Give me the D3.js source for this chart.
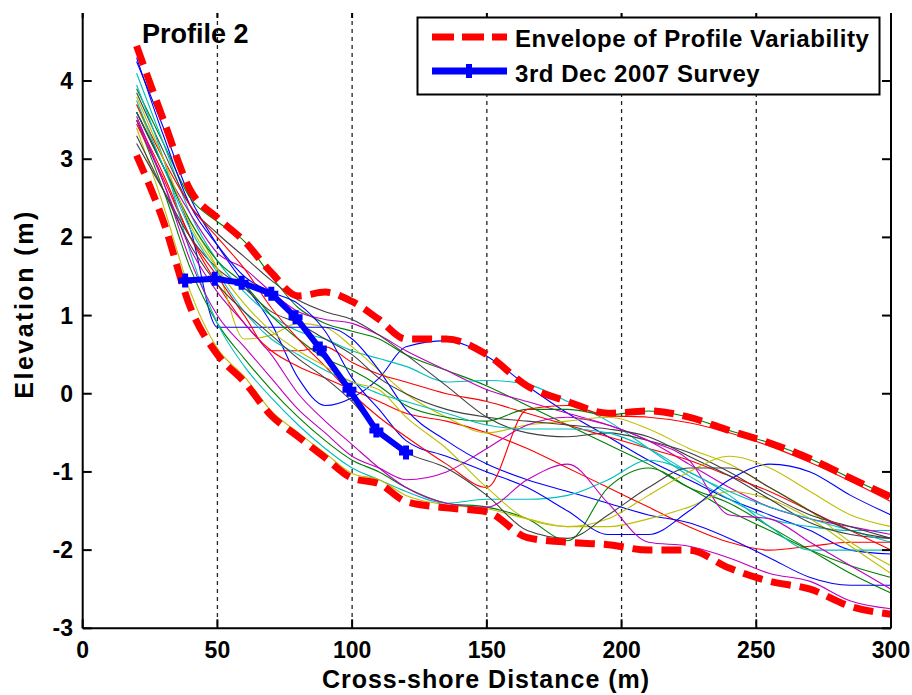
<!DOCTYPE html>
<html>
<head>
<meta charset="utf-8">
<script src="https://cdn.jsdelivr.net/npm/d3@7"></script>
<style>
  html, body { margin: 0; padding: 0; background: #fff; }
  svg text { font-family: 'Liberation Sans', Arial, Helvetica, sans-serif; font-weight: bold; fill: #000; }
</style>
</head>
<body>
<div id="chart"></div>
<script>
// ── Data ────────────────────────────────────────────────────────────────────
const xTicks = [0, 50, 100, 150, 200, 250, 300];
const yTicks = [-3, -2, -1, 0, 1, 2, 3, 4];

// cross-shore positions shared by all profiles and the envelope
const distances = [20, 30, 40, 50, 60, 70, 80, 90, 100, 110, 120, 135, 150, 165, 180, 195, 210, 225, 240, 255, 270, 285, 300];

const envelopeUpper = [4.45, 3.5, 2.6, 2.25, 1.95, 1.55, 1.25, 1.3, 1.18, 0.95, 0.7, 0.7, 0.5, 0.1, -0.1, -0.25, -0.22, -0.3, -0.47, -0.63, -0.83, -1.08, -1.32];
const envelopeLower = [3.05, 2.2, 1.1, 0.5, 0.15, -0.28, -0.55, -0.82, -1.08, -1.15, -1.38, -1.46, -1.51, -1.84, -1.9, -1.93, -2.0, -2.0, -2.23, -2.4, -2.5, -2.72, -2.82];

// historic surveys (thin lines)
const profiles = [
  [4.25, 3.4, 2.5, 1.9, 1.4, 0.9, 0.2, -0.15, -0.05, 0.2, 0.6, 0.68, 0.48, 0.1, -0.25, -0.55, -0.85, -1.1, -1.35, -1.55, -1.75, -2.0, -2.05],
  [3.9, 3.2, 2.5, 2.2, 1.95, 1.5, 1.1, 0.9, 0.8, 0.7, 0.5, 0.3, 0.1, -0.15, -0.4, -0.65, -0.9, -1.2, -1.4, -1.7, -2.0, -2.3, -2.55],
  [3.5, 2.8, 2.0, 1.4, 0.9, 0.55, 0.35, 0.2, 0.05, -0.1, -0.25, -0.35, -0.5, -0.7, -0.95, -1.2, -1.45, -1.7, -1.9, -2.0, -1.95, -1.9, -1.9],
  [4.1, 3.2, 2.3, 1.7, 1.3, 1.0, 0.8, 0.7, 0.55, 0.45, 0.35, 0.15, 0.17, 0.12, -0.1, -0.35, -0.7, -1.05, -1.35, -1.6, -1.7, -1.75, -1.75],
  [3.6, 2.9, 2.3, 1.8, 1.6, 1.3, 1.05, 0.95, 0.9, 0.75, 0.55, 0.3, 0.05, -0.1, -0.25, -0.4, -0.6, -0.9, -1.2, -1.45, -1.6, -1.7, -1.8],
  [3.7, 2.9, 2.2, 1.6, 0.7, 0.75, 0.9, 0.85, 0.6, 0.3, 0.0, -0.3, -0.5, -0.4, -0.35, -0.3, -0.45, -0.7, -0.9, -1.2, -1.5, -1.9, -2.2],
  [3.85, 3.1, 2.4, 2.05, 1.75, 1.45, 1.2, 1.05, 0.95, 0.75, 0.5, 0.1, -0.3, -0.5, -0.55, -0.5, -0.6, -0.75, -1.0, -1.3, -1.55, -1.7, -1.85],
  [3.6, 2.9, 2.1, 0.85, 0.85, 0.85, 0.85, 0.85, 0.7, 0.3, -0.2, -0.6, -0.9, -1.1, -1.25, -1.4, -1.55, -1.65, -1.85, -2.1, -2.35, -2.45, -2.45],
  [3.5, 2.6, 1.6, 0.9, 0.45, 0.05, -0.3, -0.6, -0.85, -1.0, -1.2, -1.4, -1.45, -1.6, -1.88, -1.2, -0.95, -1.2, -1.5, -1.75, -2.0, -2.2, -2.35],
  [3.45, 2.75, 2.0, 1.5, 1.0, 0.55, 0.55, 0.6, 0.4, 0.25, 0.15, 0.0, -0.1, -0.25, -0.4, -0.55, -0.7, -0.85, -1.05, -1.25, -1.5, -1.75, -2.0],
  [3.95, 3.0, 1.8, 0.9, 0.35, -0.05, -0.4, -0.7, -0.95, -1.1, -1.25, -1.4, -1.35, -1.35, -1.3, -1.1, -0.85, -1.0, -1.3, -1.7, -2.0, -2.0, -2.0],
  [3.55, 2.7, 1.7, 1.0, 0.6, 0.2, -0.2, -0.5, -0.8, -0.95, -1.1, -1.0, -0.7, -0.4, -0.3, -0.4, -0.6, -0.85, -1.55, -1.6, -1.9, -2.2, -2.5],
  [3.4, 2.4, 1.3, 0.58, 0.22, -0.22, -0.5, -0.76, -1.02, -1.1, -1.3, -1.42, -1.47, -1.6, -1.7, -1.7, -1.6, -1.45, -1.25, -1.35, -1.6, -1.95, -2.3],
  [3.2, 2.6, 2.0, 1.6, 1.35, 1.05, 0.9, 0.7, 0.5, 0.2, 0.0, -0.2, -0.3, -0.35, -0.4, -0.45, -0.55, -0.8, -1.05, -1.35, -1.65, -1.8, -1.85],
  [4.3, 3.3, 2.4, 1.9, 1.5, 1.3, 1.15, 0.8, 0.2, -0.2, -0.6, -0.8, -1.0, -1.2, -1.5, -1.8, -1.8, -1.5, -1.1, -0.9, -1.0, -1.3, -1.55],
  [3.6, 2.9, 2.2, 1.7, 1.4, 1.0, 0.7, 0.45, 0.3, 0.1, -0.15, -0.3, -0.35, -0.2, -0.2, -0.27, -0.22, -0.3, -0.47, -0.63, -0.83, -1.08, -1.32],
  [3.7, 3.0, 2.4, 2.0, 1.6, 1.1, 0.7, 0.35, 0.0, -0.3, -0.55, -0.9, -1.2, -0.2, -0.15, -0.28, -0.3, -0.37, -0.5, -0.67, -0.88, -1.12, -1.38],
  [3.75, 2.9, 2.1, 1.55, 1.05, 0.7, 0.5, 0.3, 0.15, 0.0, -0.1, -0.25, -0.4, -0.45, -0.45, -0.5, -0.7, -1.0, -1.25, -1.45, -1.6, -1.75, -1.9],
  [3.5, 2.7, 1.85, 1.3, 0.9, 0.5, 0.0, -0.35, -0.65, -0.95, -1.2, -1.4, -1.45, -1.1, -0.9, -1.4, -1.9, -1.95, -2.1, -2.3, -2.4, -2.65, -2.75],
  [3.8, 3.0, 2.15, 1.6, 1.15, 0.8, 0.55, 0.35, 0.15, 0.05, -0.3, -0.7, -1.2, -1.6, -1.7, -1.6, -1.3, -1.0, -0.8, -0.95, -1.25, -1.55, -1.7],
  [3.3, 2.6, 1.9, 1.4, 1.05, 0.75, 0.45, 0.2, -0.1, -0.5, -0.75, -0.95, -1.3, -1.75, -1.85, -1.55, -1.2, -0.95, -0.95, -1.2, -1.5, -1.75, -1.85]
];

// 3rd Dec 2007 survey
const surveyX = [38, 49, 59, 70, 79, 88, 99, 109, 120];
const surveyY = [1.45, 1.47, 1.42, 1.28, 0.98, 0.58, 0.05, -0.47, -0.75];

// MATLAB default colour order
const lineColors = ['#0000ff', '#008000', '#ff0000', '#00bfbf', '#bf00bf', '#bfbf00', '#404040'];

const legendLabels = ['Envelope of Profile Variability', '3rd Dec 2007 Survey'];

(function () {
  'use strict';

  // ── Layout ────────────────────────────────────────────────────────────────
  const W = 912, H = 695;
  const plotL = 82.7, plotR = 891, plotT = 13, plotB = 628.3;

  const svg = d3.select('#chart').append('svg')
    .attr('width', W)
    .attr('height', H)
    .style('display', 'block');

  svg.append('rect').attr('width', W).attr('height', H).attr('fill', '#fff');

  const x = d3.scaleLinear().domain([0, 300]).range([plotL, plotR]);
  const y = d3.scaleLinear().domain([-3, 4.87]).range([plotB, plotT]);

  // dotted vertical grid
  svg.append('g')
    .selectAll('line')
    .data(xTicks.slice(1, -1))
    .enter()
    .append('line')
    .attr('x1', d => x(d)).attr('x2', d => x(d))
    .attr('y1', plotT).attr('y2', plotB)
    .attr('stroke', '#222')
    .attr('stroke-width', 1.3)
    .attr('stroke-dasharray', '4,4');

  // ── Profiles ──────────────────────────────────────────────────────────────
  const line = d3.line()
    .x((d, i) => x(distances[i]))
    .y(d => y(d))
    .curve(d3.curveMonotoneX);

  svg.append('g')
    .selectAll('path')
    .data(profiles)
    .enter()
    .append('path')
    .attr('d', line)
    .attr('fill', 'none')
    .attr('stroke', (d, i) => lineColors[i % lineColors.length])
    .attr('stroke-width', 1.1);

  // envelope
  [envelopeUpper, envelopeLower].forEach(env => {
    svg.append('path')
      .attr('d', line(env))
      .attr('fill', 'none')
      .attr('stroke', '#ff0000')
      .attr('stroke-width', 7)
      .attr('stroke-dasharray', '20,9');
  });

  // survey with '+' markers
  const surveyLine = d3.line()
    .x((d, i) => x(surveyX[i]))
    .y(d => y(d));

  svg.append('path')
    .attr('d', surveyLine(surveyY))
    .attr('fill', 'none')
    .attr('stroke', '#0000ff')
    .attr('stroke-width', 6)
    .attr('stroke-linejoin', 'round');

  const plus = 'M-7,0H7M0,-7V7';
  svg.append('g')
    .selectAll('path')
    .data(surveyY)
    .enter()
    .append('path')
    .attr('transform', (d, i) => `translate(${x(surveyX[i])},${y(d)})`)
    .attr('d', plus)
    .attr('stroke', '#0000ff')
    .attr('stroke-width', 6);

  // ── Axes ──────────────────────────────────────────────────────────────────
  const axes = svg.append('g').attr('stroke', '#000').attr('stroke-width', 2);
  axes.append('line').attr('x1', plotL).attr('x2', plotL).attr('y1', plotT).attr('y2', plotB);
  axes.append('line').attr('x1', plotR).attr('x2', plotR).attr('y1', plotT).attr('y2', plotB);
  axes.append('line').attr('x1', plotL).attr('x2', plotR).attr('y1', plotB).attr('y2', plotB);

  const tickLen = 9;
  xTicks.forEach(t => {
    axes.append('line').attr('x1', x(t)).attr('x2', x(t)).attr('y1', plotB).attr('y2', plotB - tickLen);
    axes.append('line').attr('x1', x(t)).attr('x2', x(t)).attr('y1', plotT).attr('y2', plotT + 5);
  });
  yTicks.forEach(t => {
    axes.append('line').attr('x1', plotL).attr('x2', plotL + tickLen).attr('y1', y(t)).attr('y2', y(t));
    axes.append('line').attr('x1', plotR).attr('x2', plotR - tickLen).attr('y1', y(t)).attr('y2', y(t));
  });

  svg.append('g')
    .selectAll('text')
    .data(xTicks)
    .enter()
    .append('text')
    .attr('x', d => x(d))
    .attr('y', 658)
    .attr('text-anchor', 'middle')
    .style('font-size', '23px')
    .text(d => d);

  svg.append('g')
    .selectAll('text')
    .data(yTicks)
    .enter()
    .append('text')
    .attr('x', 73)
    .attr('y', d => y(d) + 8)
    .attr('text-anchor', 'end')
    .style('font-size', '23px')
    .text(d => d);

  svg.append('text')
    .attr('x', 486)
    .attr('y', 688)
    .attr('text-anchor', 'middle')
    .style('font-size', '25px')
    .style('letter-spacing', '1px')
    .text('Cross-shore Distance (m)');

  svg.append('text')
    .attr('transform', 'translate(33,304) rotate(-90)')
    .attr('text-anchor', 'middle')
    .style('font-size', '25px')
    .style('letter-spacing', '2.5px')
    .text('Elevation (m)');

  svg.append('text')
    .attr('x', 142)
    .attr('y', 43)
    .style('font-size', '27px')
    .text('Profile 2');

  // ── Legend ────────────────────────────────────────────────────────────────
  const lg = svg.append('g');
  lg.append('rect')
    .attr('x', 417.5).attr('y', 17.5)
    .attr('width', 462).attr('height', 77)
    .attr('fill', '#fff')
    .attr('stroke', '#000')
    .attr('stroke-width', 2);

  lg.append('line')
    .attr('x1', 432).attr('x2', 507).attr('y1', 37).attr('y2', 37)
    .attr('stroke', '#ff0000').attr('stroke-width', 7)
    .attr('stroke-dasharray', '22,8');

  lg.append('line')
    .attr('x1', 432).attr('x2', 507).attr('y1', 71).attr('y2', 71)
    .attr('stroke', '#0000ff').attr('stroke-width', 7);
  lg.append('path')
    .attr('transform', 'translate(469,71)')
    .attr('d', plus)
    .attr('stroke', '#0000ff')
    .attr('stroke-width', 6);

  lg.selectAll('text.lab')
    .data(legendLabels)
    .enter()
    .append('text')
    .attr('class', 'lab')
    .attr('x', 515)
    .attr('y', (d, i) => 47 + i * 35)
    .style('font-size', '24px')
    .style('letter-spacing', '0.55px')
    .text(d => d);
})();
</script>
</body>
</html>
